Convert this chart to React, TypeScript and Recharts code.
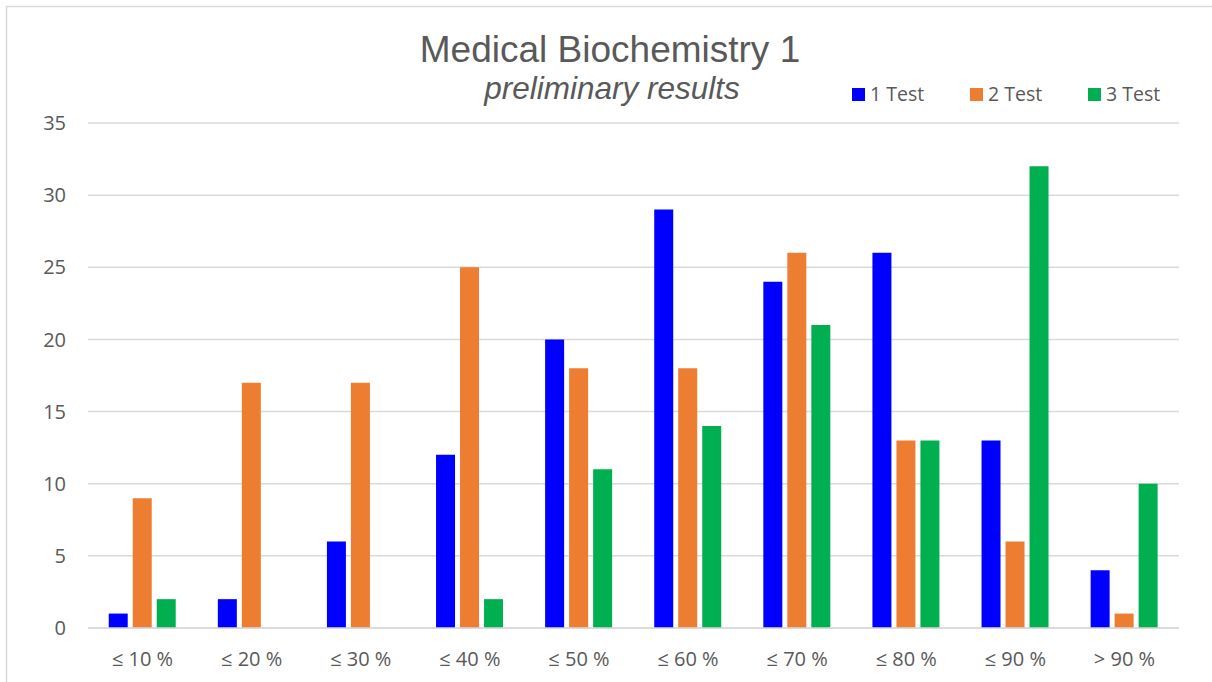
import React from "react";
import { BarChart, Bar, XAxis, YAxis, CartesianGrid, Customized } from "recharts";

const categories = ["≤ 10 %", "≤ 20 %", "≤ 30 %", "≤ 40 %", "≤ 50 %", "≤ 60 %", "≤ 70 %", "≤ 80 %", "≤ 90 %", "> 90 %"];
const test1 = [1, 2, 6, 12, 20, 29, 24, 26, 13, 4];
const test2 = [9, 17, 17, 25, 18, 18, 26, 13, 6, 1];
const test3 = [2, 0, 0, 2, 11, 14, 21, 13, 32, 10];
const yTicks = [0, 5, 10, 15, 20, 25, 30, 35];
const seriesNames = ["1 Test", "2 Test", "3 Test"];
const seriesColors = ["#0000FF", "#ED7D31", "#00B050"];

const data = categories.map((c, i) => ({ cat: c, t1: test1[i], t2: test2[i], t3: test3[i] }));

const AXIS_FONT = "'Open Sans', sans-serif";

const Titles = () => (
  <g>
    <rect x={6.5} y={6.5} width={1230} height={700} fill="none" stroke="#d9d9d9" strokeWidth={1.5} />
    <text x={610} y={62} textAnchor="middle" fontFamily="'Liberation Sans', Arial, sans-serif" fontSize={37} fill="#595959">
      Medical Biochemistry 1
    </text>
    <text x={612} y={99} textAnchor="middle" fontFamily="'Liberation Sans', Arial, sans-serif" fontStyle="italic" fontSize={31.5} fill="#595959">
      preliminary results
    </text>
    {seriesNames.map((n, i) => (
      <g key={n}>
        <rect x={852 + i * 118} y={88} width={13} height={13} fill={seriesColors[i]} />
        <text x={870 + i * 118} y={101} fontFamily={AXIS_FONT} fontSize={19.5} fill="#595959">
          {n}
        </text>
      </g>
    ))}
  </g>
);

export default function App() {
  return (
    <div style={{ position: "absolute", left: 0, top: 0, width: 1212, height: 682, background: "#fff" }}>
      <BarChart
        width={1212}
        height={682}
        data={data}
        margin={{ top: 123, right: 33, bottom: 0, left: 0 }}
        barCategoryGap="19%"
        barGap={5}
      >
        <Customized component={Titles} />
        <CartesianGrid vertical={false} stroke="#d9d9d9" strokeWidth={1.5} />
        <XAxis
          dataKey="cat"
          height={54}
          axisLine={{ stroke: "#d9d9d9", strokeWidth: 1.5 }}
          tickLine={false}
          tickMargin={18}
          tick={{ fontFamily: AXIS_FONT, fontSize: 20, fill: "#595959" }}
          interval={0}
        />
        <YAxis
          width={88}
          domain={[0, 35]}
          ticks={yTicks}
          axisLine={false}
          tickLine={false}
          tickMargin={16}
          tick={{ fontFamily: AXIS_FONT, fontSize: 20, fill: "#595959" }}
        />
        <Bar dataKey="t1" name={seriesNames[0]} fill={seriesColors[0]} isAnimationActive={false} />
        <Bar dataKey="t2" name={seriesNames[1]} fill={seriesColors[1]} isAnimationActive={false} />
        <Bar dataKey="t3" name={seriesNames[2]} fill={seriesColors[2]} isAnimationActive={false} />
      </BarChart>
    </div>
  );
}
